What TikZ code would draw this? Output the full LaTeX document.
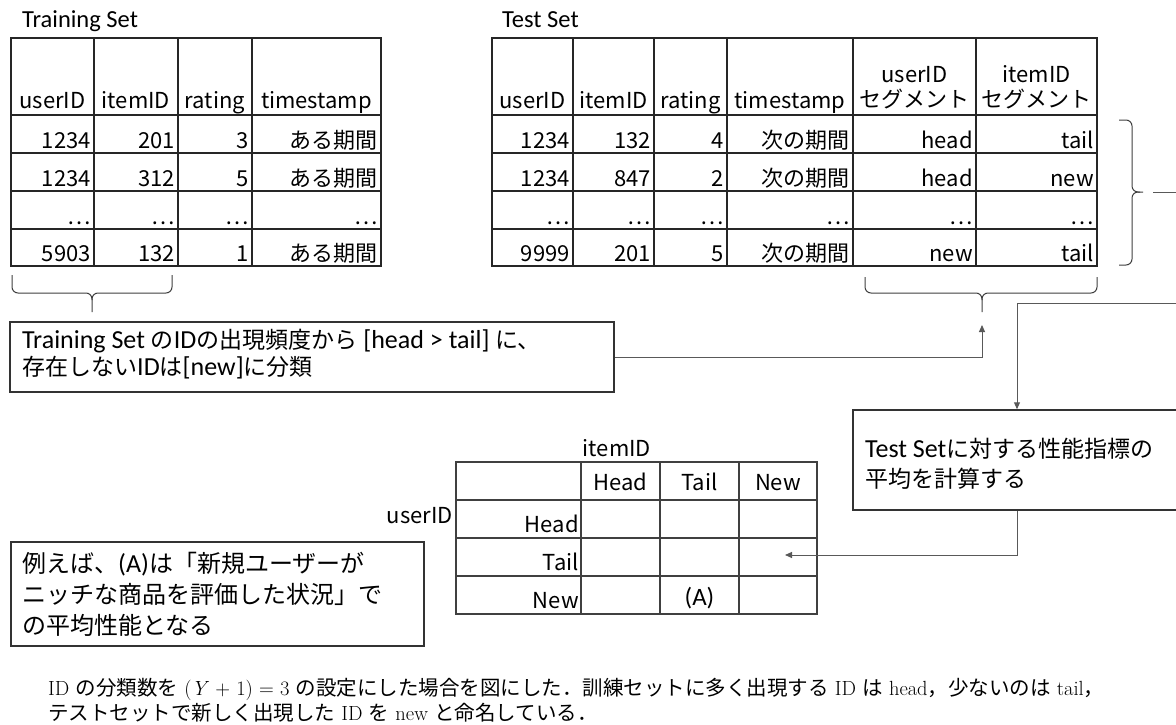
\documentclass[tikz,border=0pt]{standalone}
\usepackage{fontspec}
\usetikzlibrary{arrows.meta}
\newfontfamily\jp{Noto Sans CJK JP}
\newfontfamily\cb{Carlito}
\newcommand\fsz[2]{\fontsize{#1}{#2}\selectfont}
\newcommand\cbb[1]{{\cb\fsz{26}{28}#1}}
\tikzset{
  tbl/.style={draw=black!85, line width=1.1pt},
  mtx/.style={draw=black!75, line width=1.1pt},
  cell/.style={font=\jp\fsz{22}{26}, inner sep=0pt, anchor=base east},
  hdr/.style={font=\jp\fsz{22}{26}, inner sep=0pt, anchor=base},
  ttl/.style={font=\cb\fsz{24.5}{28}, inner sep=0pt, anchor=base west},
  box/.style={draw=black!80, line width=1.5pt, inner sep=0pt},
  btxt/.style={font=\jp\fsz{23}{26}, inner sep=0pt, anchor=base west},
  conn/.style={draw=black!65, line width=1pt},
  arr/.style={conn, -{Triangle[length=7pt,width=6pt]}},
  brc/.style={draw=black!75, line width=1pt, rounded corners=6pt},
  capt/.style={font=\fsz{20.5}{25}, inner sep=0pt, anchor=base west},
}
\begin{document}
\begin{tikzpicture}[x=1pt,y=-1pt]
\clip (0,0) rectangle (1176,725);
\fill[white] (0,0) rectangle (1176,725);

% ---------- titles
\node[ttl] (trtitle) at (22,28) {Training Set};
\node[ttl] (tetitle) at (502,28) {Test Set};

% ---------- training table
\draw[tbl] (11,38) rectangle (381,266);
\foreach \y in {115,153,191,229} \draw[tbl] (11,\y) -- (381,\y);
\foreach \x in {94,178,252} \draw[tbl] (\x,38) -- (\x,266);
\node[hdr] (trh1) at (52.5,108) {userID};
\node[hdr] (trh2) at (136,108) {itemID};
\node[hdr] (trh3) at (215,108) {rating};
\node[hdr] (trh4) at (316.5,108) {timestamp};
\foreach \r/\y/\a/\b/\c/\d in {1/148/1234/201/3/ある期間, 2/186/1234/312/5/ある期間, 3/224/…/…/…/…, 4/261/5903/132/1/ある期間}{
  \node[cell] (tr\r a) at (91,\y) {\a};
  \node[cell] (tr\r b) at (175,\y) {\b};
  \node[cell] (tr\r c) at (249,\y) {\c};
  \node[cell] (tr\r d) at (378,\y) {\d};
}

% ---------- test table
\draw[tbl] (492,38) rectangle (1097,266);
\foreach \y in {115,153,191,229} \draw[tbl] (492,\y) -- (1097,\y);
\foreach \x in {573,654,727,853,976} \draw[tbl] (\x,38) -- (\x,266);
\node[hdr] (teh1) at (532.5,108) {userID};
\node[hdr] (teh2) at (613.5,108) {itemID};
\node[hdr] (teh3) at (690.5,108) {rating};
\node[hdr] (teh4) at (790,108) {timestamp};
\node[hdr] (teh5a) at (914.5,83) {userID};
\node[hdr] (teh5b) at (914.5,107) {セグメント};
\node[hdr] (teh6a) at (1036.5,83) {itemID};
\node[hdr] (teh6b) at (1036.5,107) {セグメント};
\foreach \r/\y/\a/\b/\c/\d/\e/\f in {1/148/1234/132/4/次の期間/head/tail, 2/186/1234/847/2/次の期間/head/new, 3/224/…/…/…/…/…/…, 4/261/9999/201/5/次の期間/new/tail}{
  \node[cell] (te\r a) at (570,\y) {\a};
  \node[cell] (te\r b) at (651,\y) {\b};
  \node[cell] (te\r c) at (724,\y) {\c};
  \node[cell] (te\r d) at (850,\y) {\d};
  \node[cell] (te\r e) at (973,\y) {\e};
  \node[cell] (te\r f) at (1094,\y) {\f};
}

% ---------- braces
\draw[brc] (12,275) -- (12,293) -- (92,293) -- (92,312);
\draw[brc] (172,275) -- (172,293) -- (92,293) -- (92,300);
\draw[brc] (865,277) -- (865,293) -- (982,293) -- (982,312);
\draw[brc] (1097,277) -- (1097,293) -- (982,293) -- (982,300);
\draw[brc] (1119,120) -- (1132,120) -- (1132,192) -- (1143,192);
\draw[brc] (1119,265) -- (1132,265) -- (1132,192) -- (1140,192);

% ---------- boxes
\node[box, minimum width=604pt, minimum height=70pt] (trainbox) at (312,357) {};
\node[btxt] (train1) at (22,348) {\cbb{Training Set }の\cbb{ID}の出現頻度から\cbb{ [head > tail] }に、};
\node[btxt] (train2) at (22,375) {存在しない\cbb{ID}は\cbb{[new]}に分類};

\node[box, minimum width=337pt, minimum height=100pt] (calcbox) at (1021.5,460) {};
\node[btxt] (calc1) at (865,457) {\cbb{Test Set}に対する性能指標の};
\node[btxt] (calc2) at (865,487) {平均を計算する};

\node[box, minimum width=413pt, minimum height=104pt] (exbox) at (217.5,594) {};
\node[btxt, font=\jp\fsz{24}{26}] (ex1) at (22,572) {例えば、\cbb{(A)}は「新規ユーザーが};
\node[btxt, font=\jp\fsz{24}{26}] (ex2) at (22,603) {ニッチな商品を評価した状況」で};
\node[btxt, font=\jp\fsz{24}{26}] (ex3) at (22,634) {の平均性能となる};

% ---------- matrix
\draw[mtx] (456,462) rectangle (817,614);
\foreach \y in {500,538,576} \draw[mtx] (456,\y) -- (817,\y);
\foreach \x in {581,660,739} \draw[mtx] (\x,462) -- (\x,614);
\node[hdr] (mitem) at (617,456) {itemID};
\node[cell] (muser) at (453,523) {userID};
\node[hdr] (mc1) at (620.5,490) {Head};
\node[hdr] (mc2) at (699.5,490) {Tail};
\node[hdr] (mc3) at (778,490) {New};
\node[cell] (mr1) at (579,532) {Head};
\node[cell] (mr2) at (579,570) {Tail};
\node[cell] (mr3) at (579,608) {New};
\node[hdr, font=\cb\fsz{25}{28}] (mA) at (699.5,605) {(A)};

% ---------- connectors
\coordinate (segtip) at (982,325);
\coordinate (rbtip) at (1153,192);
\coordinate (rbout) at (1176,192);
\coordinate (rin) at (1176,303);
\coordinate (colx) at (1017,0);
\coordinate (mtarget) at (785,555);
\draw[arr] (trainbox.east) -| (segtip);
\draw[conn] (rbtip) -- (rbout);
\draw[arr] (rin) -| (colx |- calcbox.north);
\draw[arr] (colx |- calcbox.south) |- (mtarget);

% ---------- caption
\node[capt] (cap1) at (48,695) {ID {\jp の分類数を} (\textit{Y} + 1) = 3 {\jp の設定にした場合を図にした．訓練セットに多く出現する} ID {\jp は} head{\jp ，少ないのは} tail{\jp ，}};
\node[capt] (cap2) at (48,720) {{\jp テストセットで新しく出現した} ID {\jp を} new {\jp と命名している．}};
\end{tikzpicture}
\end{document}
